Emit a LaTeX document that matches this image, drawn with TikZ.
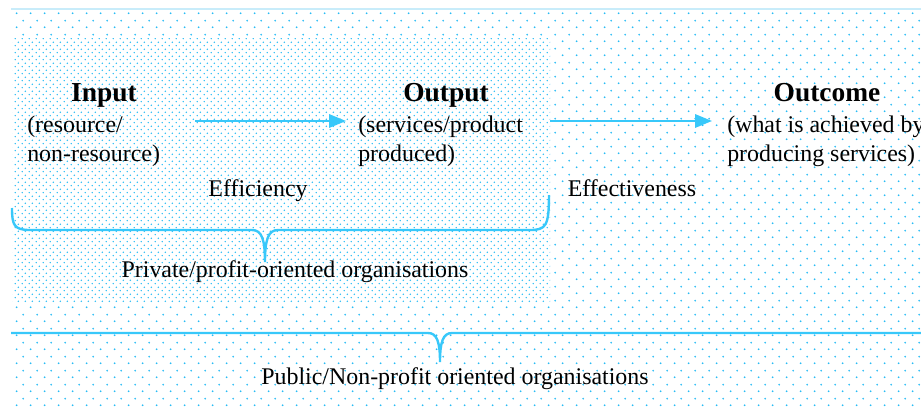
\documentclass[tikz,border=0pt]{standalone}
\usepackage{fontspec}
\setmainfont{Liberation Serif}
\usetikzlibrary{positioning,calc,arrows.meta,patterns}

\definecolor{lineblue}{RGB}{56,200,250}
\definecolor{dotblue}{RGB}{40,188,245}
\definecolor{paleblue}{RGB}{200,236,250}

% dot screens of the two areas
\pgfdeclarepatternformonly{sparse dots}{\pgfpointorigin}{\pgfqpoint{9.96pt}{9.67pt}}{\pgfqpoint{9.96pt}{9.67pt}}{%
	\pgfpathcircle{\pgfqpoint{2pt}{2pt}}{0.72pt}%
	\pgfpathcircle{\pgfqpoint{6.98pt}{6.84pt}}{0.72pt}%
	\pgfusepath{fill}}
\pgfdeclarepatternformonly{dense dots}{\pgfpointorigin}{\pgfqpoint{4.98pt}{4.84pt}}{\pgfqpoint{4.98pt}{4.84pt}}{%
	\pgfpathcircle{\pgfqpoint{1pt}{1pt}}{0.62pt}%
	\pgfpathcircle{\pgfqpoint{3.49pt}{3.42pt}}{0.62pt}%
	\pgfusepath{fill}}

\begin{document}
\begin{tikzpicture}
	[   x=0.025cm, y=-0.025cm,
	    title/.style={font=\fontsize{19.5}{23}\selectfont\bfseries,inner sep=0pt},
	    body/.style={font=\fontsize{17}{20.5}\selectfont,align=left,inner sep=0pt},
	    caption/.style={font=\fontsize{17}{20}\selectfont,inner sep=0pt},
	]
	\tikzset{flow arrow/.style={draw=lineblue,line width=1.4pt,-{Triangle[length=12pt,width=9.5pt]}}}
	\tikzset{brace line/.style={draw=lineblue,line width=1.7pt}}
	\useasboundingbox (0,0) rectangle (921,408);
	\clip (0,0) rectangle (921,408);
	
	\fill[pattern=sparse dots,pattern color=dotblue] (11,12) rectangle (921,408);
	\fill[white] (12,38) rectangle (550,302);
	\fill[pattern=dense dots,pattern color=dotblue] (12,38) rectangle (550,302);
	\draw[paleblue,line width=1.5pt] (11,9) -- (921,9);
	
	\node[title,anchor=base] (input) at (104,101) {Input};
	\node[body,anchor=north west] (input-txt) at (27,116) {(resource/\\non-resource)};
	
	\node[title,anchor=base] (output) at (446,101) {Output};
	\node[body,anchor=north west] (output-txt) at (358,116) {(services/product\\produced)};
	
	\node[title,anchor=base] (outcome) at (827,101) {Outcome};
	\node[body,anchor=north west] (outcome-txt) at (727,116) {(what is achieved by\\producing services)};
	
	\coordinate (eff-start) at (195,121);
	\coordinate (eff-end) at (346,121);
	\coordinate (effv-start) at (550,121);
	\coordinate (effv-end) at (712,121);
	\path[flow arrow] (eff-start) -- (eff-end);
	\path[flow arrow] (effv-start) -- (effv-end);
	
	\node[caption,anchor=base] (efficiency) at (258,196) {Efficiency};
	\node[caption,anchor=base] (effectiveness) at (632,196) {Effectiveness};
	
	\node[caption,anchor=base] (private) at (295,277) {Private/profit-oriented organisations};
	\node[caption,anchor=base] (public) at (455,384) {Public/Non-profit oriented organisations};
	
	\draw[brace line] (12,208) .. controls (12,225) and (14,230) .. (30,230) -- (252,230)
		.. controls (262,230) and (265,240) .. (265,262)
		.. controls (265,240) and (268,230) .. (278,230) -- (530,230)
		.. controls (546,230) and (549,226) .. (549,195);
	\draw[brace line] (11,333) -- (428,333)
		.. controls (437,333) and (440,342) .. (440,362)
		.. controls (440,342) and (443,333) .. (452,333) -- (921,333);
\end{tikzpicture}
\end{document}
